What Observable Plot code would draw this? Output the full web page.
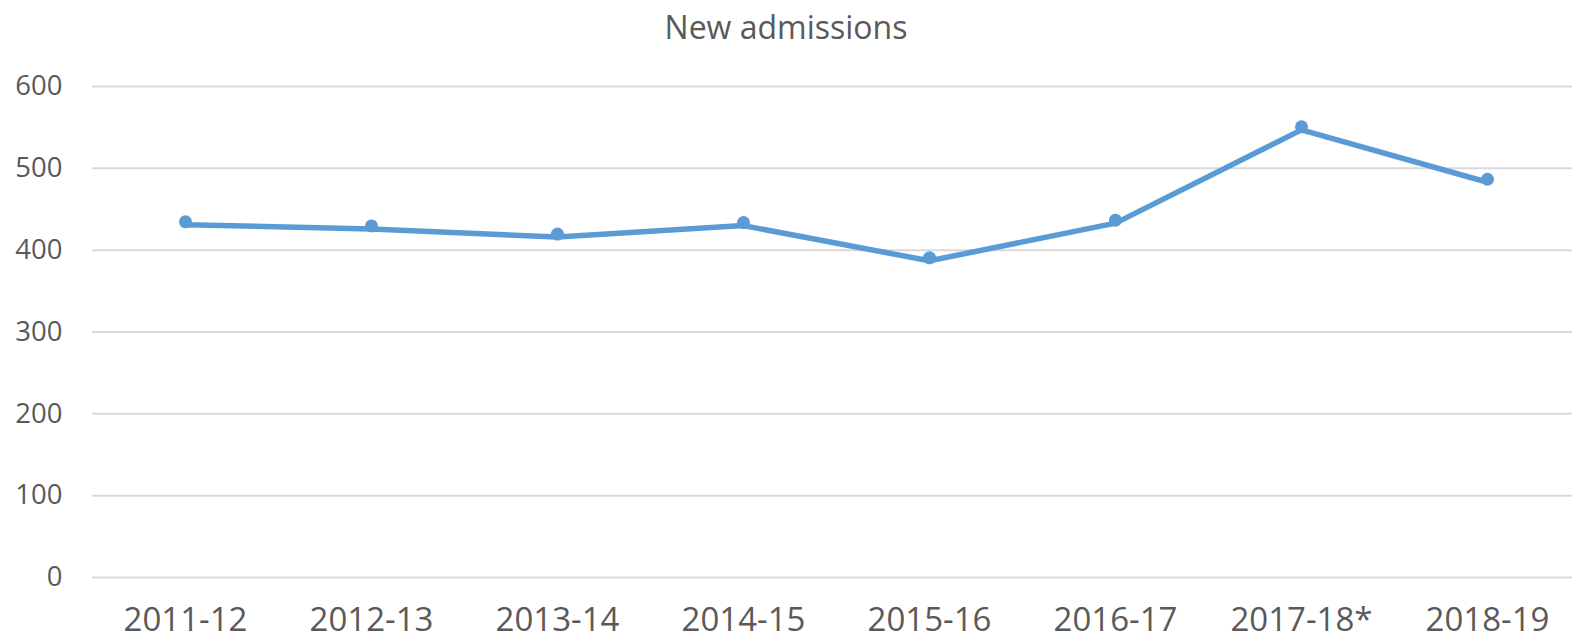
<!DOCTYPE html>
<html>
<head>
<meta charset="utf-8">
<script src="https://cdn.jsdelivr.net/npm/d3@7"></script>
<script src="https://cdn.jsdelivr.net/npm/@observablehq/plot@0.6"></script>
<style>
  html, body { margin: 0; padding: 0; background: #fff; overflow: hidden; }
  #title { height: 54px; line-height: 54px; text-align: center; font-family: "Open Sans", sans-serif; font-size: 32px; color: #595959; }
</style>
</head>
<body>
<div id="title">New admissions</div>
<div id="chart"></div>
<script>
const years = ["2011-12", "2012-13", "2013-14", "2014-15", "2015-16", "2016-17", "2017-18*", "2018-19"];
const admissions = [431, 426, 416, 430, 387, 433, 547, 483];
const yTicks = [0, 100, 200, 300, 400, 500, 600];

const data = years.map((year, i) => ({year, value: admissions[i]}));

const chart = Plot.plot({
  width: 1572,
  height: 587,
  marginLeft: 92,
  marginRight: 0,
  marginTop: 32,
  marginBottom: 64,
  style: {fontFamily: "Open Sans, sans-serif", color: "#595959", background: "#fff", overflow: "visible"},
  x: {type: "point", domain: years, padding: 0.5, range: [90, 1581], label: null},
  y: {domain: [0, 600], label: null},
  marks: [
    Plot.gridY(yTicks, {stroke: "#d9d9d9", strokeOpacity: 1, strokeWidth: 2}),
    Plot.axisY(yTicks, {tickSize: 0, tickPadding: 30, fontSize: 27.5, fill: "#595959", label: null}),
    Plot.axisX({tickSize: 0, tickPadding: 30, fontSize: 33, fill: "#595959", label: null}),
    Plot.line(data, {x: "year", y: "value", stroke: "#5b9bd5", strokeWidth: 5.5, strokeLinejoin: "round"}),
    Plot.dot(data, {x: "year", y: "value", r: 6.5, fill: "#5b9bd5", stroke: "none", dy: -3})
  ]
});
document.getElementById("chart").append(chart);
</script>
</body>
</html>
